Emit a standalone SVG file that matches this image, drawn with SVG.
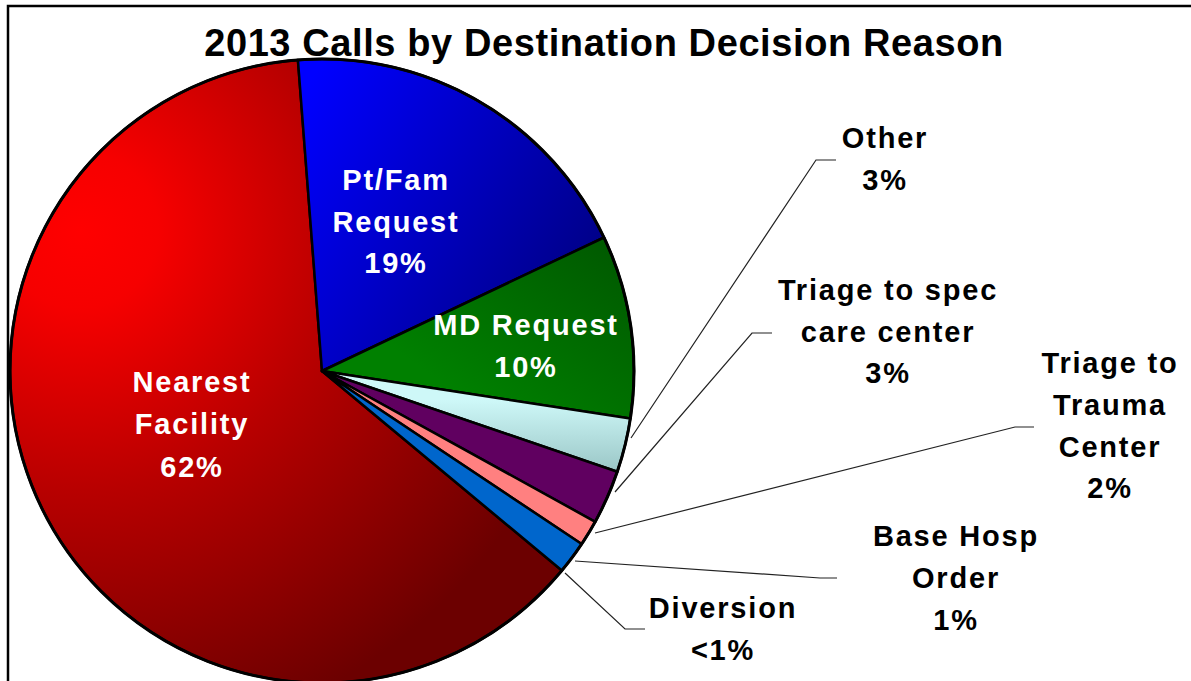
<svg xmlns="http://www.w3.org/2000/svg" width="1191" height="681" viewBox="0 0 1191 681">
<style>
text{font-family:"Liberation Sans",Arial,sans-serif;font-weight:bold;text-anchor:middle}
.t{font-size:38px;letter-spacing:0.6px;fill:#000}
.w{font-size:29px;letter-spacing:1.8px;fill:#fff}
.b{font-size:29px;letter-spacing:1.8px;fill:#000}
.s{stroke:#000;stroke-width:2.5;stroke-linejoin:round}
.ld{fill:none;stroke:#222;stroke-width:1.2}
</style>
<defs>
<radialGradient id="gRed" gradientUnits="userSpaceOnUse" cx="80" cy="230" r="520">
<stop offset="0" stop-color="#ff0000"/>
<stop offset="0.15" stop-color="#f60000"/>
<stop offset="0.5" stop-color="#b80000"/>
<stop offset="1" stop-color="#6c0000"/>
</radialGradient>
<linearGradient id="gBlue" gradientUnits="userSpaceOnUse" x1="310" y1="80" x2="600" y2="250">
<stop offset="0" stop-color="#0000ff"/>
<stop offset="1" stop-color="#000088"/>
</linearGradient>
<linearGradient id="gGreen" gradientUnits="userSpaceOnUse" x1="600" y1="240" x2="480" y2="410">
<stop offset="0" stop-color="#005a00"/>
<stop offset="1" stop-color="#008000"/>
</linearGradient>
<linearGradient id="gCyan" gradientUnits="userSpaceOnUse" x1="0" y1="400" x2="0" y2="475">
<stop offset="0" stop-color="#cef8f8"/>
<stop offset="1" stop-color="#98c4c4"/>
</linearGradient>
</defs>
<rect width="1191" height="681" fill="#fff"/>
<path d="M8 681 V6 H1191" fill="none" stroke="#000" stroke-width="2.5"/>
<text class="t" x="604" y="56">2013 Calls by Destination Decision Reason</text>

<g id="nearest-facility">
<path class="s" fill="url(#gRed)" d="M322 371 L561.9 570.5 A312 312 0 1 1 297.9 59.9 Z"/>
<text class="w" x="192" y="392">Nearest</text>
<text class="w" x="192" y="434">Facility</text>
<text class="w" x="192" y="477">62%</text>
</g>
<g id="pt-fam-request">
<path class="s" fill="url(#gBlue)" d="M322 371 L297.9 59.9 A312 312 0 0 1 604 237.5 Z"/>
<text class="w" x="396" y="190">Pt/Fam</text>
<text class="w" x="396" y="232">Request</text>
<text class="w" x="396" y="273">19%</text>
</g>
<g id="md-request">
<path class="s" fill="url(#gGreen)" d="M322 371 L604 237.5 A312 312 0 0 1 630.3 418.6 Z"/>
<text class="w" x="526" y="335">MD Request</text>
<text class="w" x="526" y="377">10%</text>
</g>
<g id="other">
<path class="s" fill="url(#gCyan)" d="M322 371 L630.3 418.6 A312 312 0 0 1 617.3 471.7 Z"/>
<text class="b" x="885" y="148">Other</text>
<text class="b" x="885" y="190">3%</text>
</g>
<g id="triage-spec-care">
<path class="s" fill="#600060" d="M322 371 L617.3 471.7 A312 312 0 0 1 595.2 521.8 Z"/>
<text class="b" x="888" y="300">Triage to spec</text>
<text class="b" x="888" y="342">care center</text>
<text class="b" x="888" y="383">3%</text>
</g>
<g id="triage-trauma">
<path class="s" fill="#ff8080" d="M322 371 L595.2 521.8 A312 312 0 0 1 581.6 544 Z"/>
<text class="b" x="1110" y="373">Triage to</text>
<text class="b" x="1110" y="415">Trauma</text>
<text class="b" x="1110" y="457">Center</text>
<text class="b" x="1110" y="498">2%</text>
</g>
<g id="base-hosp-order">
<path class="s" fill="#0066cc" d="M322 371 L581.6 544 A312 312 0 0 1 561.9 570.5 Z"/>
<text class="b" x="956" y="546">Base Hosp</text>
<text class="b" x="956" y="588">Order</text>
<text class="b" x="956" y="630">1%</text>
</g>
<g id="diversion">
<text class="b" x="723" y="618">Diversion</text>
<text class="b" x="723" y="660">&lt;1%</text>
</g>
<circle cx="322" cy="371" r="312" fill="none" stroke="#000" stroke-width="3"/>

<g id="connectors">
<path class="ld" d="M631 438 L816 160 H836"/>
<path class="ld" d="M615 492 L752 333 H772"/>
<path class="ld" d="M595 533 L1015 427 H1034"/>
<path class="ld" d="M575 561 L820 578 H837"/>
<path class="ld" d="M565 573 L625 629 H645"/>
</g>
</svg>
